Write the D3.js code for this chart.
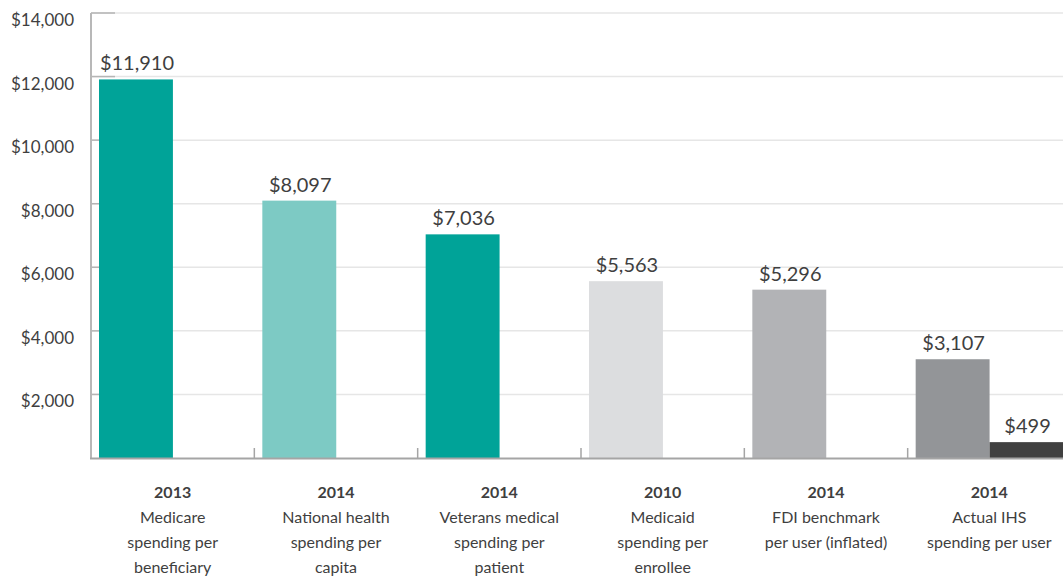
<!DOCTYPE html>
<html>
<head>
<meta charset="utf-8">
<script src="https://cdn.jsdelivr.net/npm/d3@7"></script>
<style>
  body { margin: 0; background: #fff; }
  text { font-family: Lato, "Open Sans", sans-serif; fill: #3f3f3f; }
</style>
</head>
<body>
<div id="chart"></div>
<script>
var svgWidth = 1063;
var svgHeight = 578;

var margin = { top: 13, right: 0, bottom: 120, left: 91 };

// chart data
var years = ["2013", "2014", "2014", "2010", "2014", "2014"];
var categories = [
  ["Medicare", "spending per", "beneficiary"],
  ["National health", "spending per", "capita"],
  ["Veterans medical", "spending per", "patient"],
  ["Medicaid", "spending per", "enrollee"],
  ["FDI benchmark", "per user (inflated)"],
  ["Actual IHS", "spending per user"]
];
var benchmarkValues = [11910, 8097, 7036, 5563, 5296, 3107];
var ihsValues = [null, null, null, null, null, 499];
var barColors = ["#00a398", "#7dcac4", "#00a398", "#dcdddf", "#b2b3b6", "#939598"];
var ihsColor = "#404040";
var yTicks = [2000, 4000, 6000, 8000, 10000, 12000, 14000];

var height = svgHeight - margin.top - margin.bottom;
// the last group runs past the right edge of the picture
var width = 980;

var svg = d3.select("#chart")
  .append("svg")
  .attr("width", svgWidth)
  .attr("height", svgHeight);

var chartGroup = svg.append("g")
  .attr("transform", `translate(${margin.left}, ${margin.top})`);

var idx = d3.range(categories.length);

var x0 = d3.scaleBand()
  .domain(idx)
  .range([0, width]);

var x1 = d3.scaleBand()
  .domain(["bench", "ihs"])
  .range([8, x0.bandwidth() - 7.5]);

var yLinearScale = d3.scaleLinear()
  .domain([0, 14000])
  .range([height, 0]);

// gridlines
chartGroup.selectAll(".grid")
  .data(yTicks)
  .enter()
  .append("line")
  .attr("x1", 0)
  .attr("x2", svgWidth - margin.left)
  .attr("y1", d => yLinearScale(d))
  .attr("y2", d => yLinearScale(d))
  .attr("stroke", "#e6e6e6")
  .attr("stroke-width", 1.5);

// short tick marks on the y axis
chartGroup.selectAll(".ytick")
  .data(yTicks)
  .enter()
  .append("line")
  .attr("x1", 0)
  .attr("x2", 24)
  .attr("y1", d => yLinearScale(d))
  .attr("y2", d => yLinearScale(d))
  .attr("stroke", "#b5b5b5")
  .attr("stroke-width", 1.5);

// y tick labels
chartGroup.selectAll(".ylabel")
  .data(yTicks)
  .enter()
  .append("text")
  .attr("x", -17)
  .attr("y", d => yLinearScale(d) + 13)
  .attr("text-anchor", "end")
  .attr("font-size", 17)
  .text(d => "$" + d3.format(",")(d));

// bars
chartGroup.selectAll(".bar")
  .data(idx)
  .enter()
  .append("rect")
  .attr("x", i => x0(i) + x1("bench"))
  .attr("width", x1.bandwidth())
  .attr("y", i => yLinearScale(benchmarkValues[i]))
  .attr("height", i => height - yLinearScale(benchmarkValues[i]))
  .attr("fill", i => barColors[i]);

chartGroup.selectAll(".ihs")
  .data(idx.filter(i => ihsValues[i] != null))
  .enter()
  .append("rect")
  .attr("x", i => x0(i) + x1("ihs"))
  .attr("width", x1.bandwidth())
  .attr("y", i => yLinearScale(ihsValues[i]))
  .attr("height", i => height - yLinearScale(ihsValues[i]))
  .attr("fill", ihsColor);

// value labels
chartGroup.selectAll(".val")
  .data(idx)
  .enter()
  .append("text")
  .attr("x", i => x0(i) + x1("bench") + x1.bandwidth() / 2 + 1)
  .attr("y", i => yLinearScale(benchmarkValues[i]) - 9)
  .attr("text-anchor", "middle")
  .attr("font-size", 20)
  .text(i => "$" + d3.format(",")(benchmarkValues[i]));

chartGroup.selectAll(".ihsval")
  .data(idx.filter(i => ihsValues[i] != null))
  .enter()
  .append("text")
  .attr("x", i => x0(i) + x1("ihs") + x1.bandwidth() / 2 + 1)
  .attr("y", i => yLinearScale(ihsValues[i]) - 9)
  .attr("text-anchor", "middle")
  .attr("font-size", 20)
  .text(i => "$" + d3.format(",")(ihsValues[i]));

// axes lines
chartGroup.append("line")
  .attr("x1", 0).attr("x2", 0)
  .attr("y1", 0).attr("y2", height + 1)
  .attr("stroke", "#b8b8b8")
  .attr("stroke-width", 2);

chartGroup.append("line")
  .attr("x1", -1).attr("x2", svgWidth - margin.left)
  .attr("y1", height + 0.5).attr("y2", height + 0.5)
  .attr("stroke", "#a5a5a5")
  .attr("stroke-width", 2);

// category separator ticks
chartGroup.selectAll(".xtick")
  .data(idx.slice(1))
  .enter()
  .append("line")
  .attr("x1", i => x0(i))
  .attr("x2", i => x0(i))
  .attr("y1", height - 10)
  .attr("y2", height)
  .attr("stroke", "#a5a5a5")
  .attr("stroke-width", 1.5);

// category labels
var labelsGroup = chartGroup.selectAll(".cat")
  .data(idx)
  .enter()
  .append("text")
  .attr("text-anchor", "middle")
  .attr("font-size", 16);

labelsGroup.append("tspan")
  .attr("x", i => x0(i) + x0.bandwidth() / 2)
  .attr("y", height + 40)
  .attr("font-weight", "bold")
  .text(i => years[i]);

labelsGroup.each(function(i) {
  var t = d3.select(this);
  categories[i].forEach(function(line, k) {
    t.append("tspan")
      .attr("x", x0(i) + x0.bandwidth() / 2)
      .attr("y", height + 65 + k * 25)
      .text(line);
  });
});
</script>
</body>
</html>
